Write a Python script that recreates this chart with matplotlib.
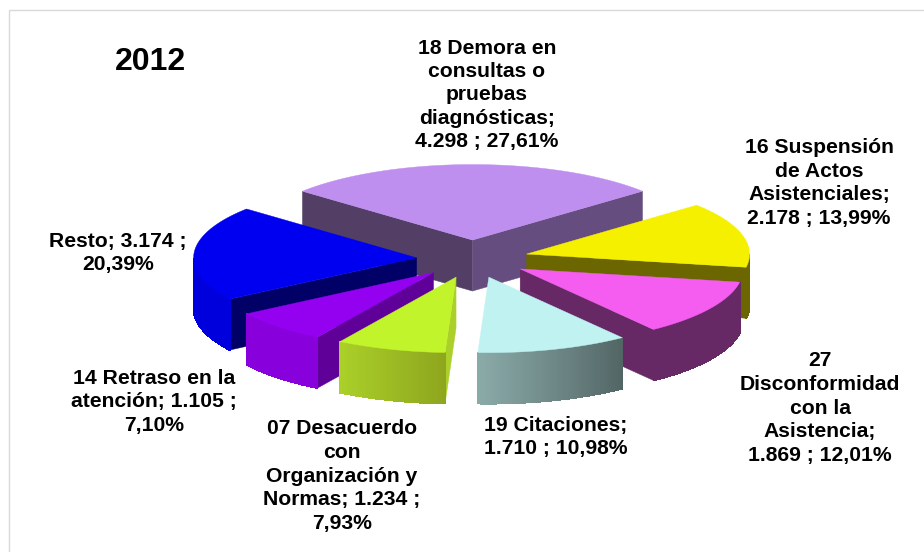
import numpy as np
import matplotlib
matplotlib.use("Agg")
import matplotlib.pyplot as plt
from matplotlib.patches import Polygon, Rectangle

categories = ["18 Demora en consultas o pruebas diagnósticas",
              "16 Suspensión de Actos Asistenciales",
              "27 Disconformidad con la Asistencia",
              "19 Citaciones",
              "07 Desacuerdo con Organización y Normas",
              "14 Retraso en la atención",
              "Resto"]
values = [4298, 2178, 1869, 1710, 1234, 1105, 3174]
label_texts = ["18 Demora en\nconsultas o\npruebas\ndiagnósticas;\n4.298 ; 27,61%",
               "16 Suspensión\nde Actos\nAsistenciales;\n2.178 ; 13,99%",
               "27\nDisconformidad\ncon la\nAsistencia;\n1.869 ; 12,01%",
               "19 Citaciones;\n1.710 ; 10,98%",
               "07 Desacuerdo\ncon\nOrganización y\nNormas; 1.234 ;\n7,93%",
               "14 Retraso en la\natención; 1.105 ;\n7,10%",
               "Resto; 3.174 ;\n20,39%"]
label_xy = [(487, 95), (819, 183), (820, 408), (556, 437), (342, 476), (154, 402), (118, 253)]
top_colors = ["#BF8FF0", "#F5F000", "#F45DF0", "#C0F2F2", "#C1F42A", "#9400F0", "#0000F0"]
arc_start = ["#664D7F", "#6B6600", "#662966", "#526565", "#8EA61E", "#8800DC", "#0000DC"]
arc_end = ["#533F66", "#6B6600", "#662966", "#8AAAA8", "#AAD029", "#8800DC", "#0000DC"]
radial_colors = ["#533F66", "#6B6600", "#662966", "#526565", "#AAD029", "#5F0099", "#000066"]
radial_colors2 = ["#664D7F", "#6B6600", "#662966", "#526565", "#AAD029", "#5F0099", "#000066"]

CX, CY, RX, RY = 472.5, 259, 223, 75.5
EXPLODE = 56
DEPTH = 51
START = -49.7


def pt(theta, r, ox, oy):
    t = np.radians(theta)
    return ox + RX * r * np.sin(t), oy - RY * r * np.cos(t)


fig = plt.figure(figsize=(9.24, 5.52), dpi=100)
ax = fig.add_axes([0, 0, 1, 1])
ax.set_xlim(0, 924)
ax.set_ylim(552, 0)
ax.axis("off")
ax.add_patch(Rectangle((8.5, 9.5), 930, 560, fc="white", ec="#D9D9D9", lw=1))

fracs = np.array(values, dtype=float) / sum(values) * 360
starts = START + np.concatenate(([0], np.cumsum(fracs)[:-1]))
ends = starts + fracs
mids = (starts + ends) / 2
order = list(np.argsort(-np.cos(np.radians(mids)), kind="stable"))
for i in order:
    a0, a1, m = starts[i], ends[i], mids[i]
    z = 1 + order.index(i)
    ox = CX + EXPLODE * np.sin(np.radians(m))
    oy = CY - EXPLODE * (RY / RX) * np.cos(np.radians(m))
    ths = np.linspace(a0, a1, 80)
    rim = np.array([pt(t, 1, ox, oy) for t in ths])
    apex = np.array([ox, oy])

    # radial faces
    for edge_theta, other, col in ((a0, a1, radial_colors[i]), (a1, a0, radial_colors2[i])):
        p = np.array(pt(edge_theta, 1, ox, oy))
        q = np.array(pt(other, 1, ox, oy))
        d = p - apex
        s_w = d[0] * (q - apex)[1] - d[1] * (q - apex)[0]
        s_d = d[0] * DEPTH
        if s_w * s_d < 0:
            ax.add_patch(Polygon([apex, p, p + [0, DEPTH], apex + [0, DEPTH]],
                                 fc=col, ec=col, lw=0.3, zorder=z))

    # outer rim: solid base, then aliased strips for the gradient
    c0 = np.array(matplotlib.colors.to_rgb(arc_start[i]))
    c1 = np.array(matplotlib.colors.to_rgb(arc_end[i]))
    vis = np.cos(np.radians(ths)) <= 0.0
    if vis.sum() > 1:
        vr = rim[vis]
        base = (c0 + c1) / 2
        ax.add_patch(Polygon(np.vstack([vr, vr[::-1] + [0, DEPTH]]), fc=base, ec=base, lw=0.4, zorder=z))
        for k in range(len(ths) - 1):
            if vis[k] and vis[k + 1]:
                col = c0 + (c1 - c0) * k / (len(ths) - 2)
                ax.add_patch(Polygon([rim[k], rim[k + 1], rim[k + 1] + [0, DEPTH], rim[k] + [0, DEPTH]],
                                     fc=col, ec=col, lw=0.6, antialiased=False, zorder=z))

    # top face
    ax.add_patch(Polygon(np.vstack([apex, rim]), fc=top_colors[i], ec=top_colors[i], lw=0.3, zorder=z + 0.5))

FONT = ["Liberation Sans", "DejaVu Sans"]
for txt, (x, y) in zip(label_texts, label_xy):
    ax.text(x, y, txt, ha="center", va="center", fontsize=15.2, fontweight="bold",
            family=FONT, linespacing=1.3, color="black", zorder=20)
ax.text(150, 62, "2012", ha="center", va="center", fontsize=23, fontweight="bold",
        family=FONT, color="black", zorder=20)

fig.savefig("out.png", dpi=100, facecolor="white")
